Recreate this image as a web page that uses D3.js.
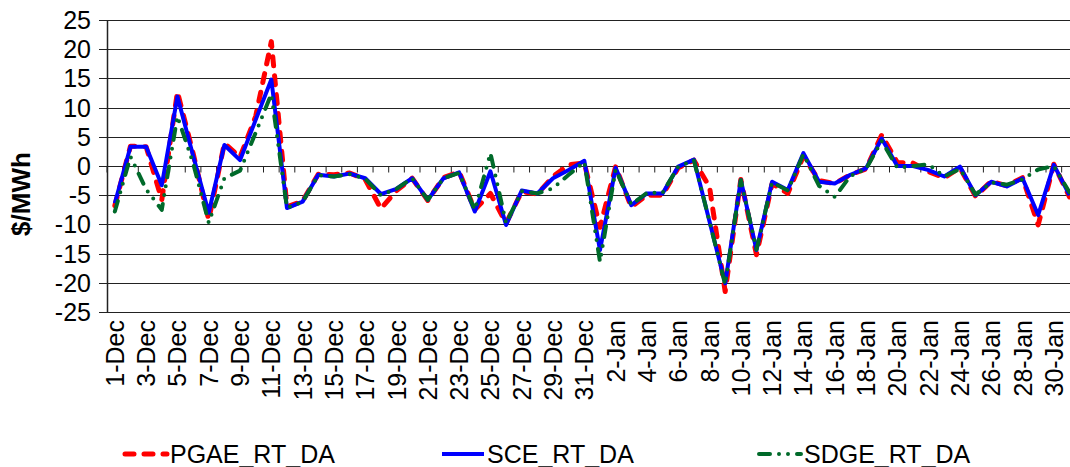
<!DOCTYPE html>
<html lang="en">
<head>
    <meta charset="UTF-8">
    <title>RT - DA price differences</title>
    <script src="https://d3js.org/d3.v7.min.js"></script>
    <style>
        body {
            margin: 0;
            padding: 0;
            background: white;
            overflow: hidden;
        }
        svg {
            display: block;
            font-family: 'Liberation Sans', Arial, sans-serif;
        }
        .tick-label {
            font-size: 25px;
            fill: black;
        }
        .legend-text {
            font-size: 25px;
            fill: black;
        }
        .axis-title {
            font-size: 26px;
            font-weight: bold;
        }
    </style>
</head>
<body>
    <div id="chart"></div>

    <script>
        // category labels, one per day
        const days = [
            "1-Dec","2-Dec","3-Dec","4-Dec","5-Dec","6-Dec","7-Dec","8-Dec","9-Dec","10-Dec",
            "11-Dec","12-Dec","13-Dec","14-Dec","15-Dec","16-Dec","17-Dec","18-Dec","19-Dec","20-Dec",
            "21-Dec","22-Dec","23-Dec","24-Dec","25-Dec","26-Dec","27-Dec","28-Dec","29-Dec","30-Dec","31-Dec",
            "1-Jan","2-Jan","3-Jan","4-Jan","5-Jan","6-Jan","7-Jan","8-Jan","9-Jan","10-Jan",
            "11-Jan","12-Jan","13-Jan","14-Jan","15-Jan","16-Jan","17-Jan","18-Jan","19-Jan","20-Jan",
            "21-Jan","22-Jan","23-Jan","24-Jan","25-Jan","26-Jan","27-Jan","28-Jan","29-Jan","30-Jan","31-Jan"
        ];

        // only every second day is labelled
        const dayLabels = days.filter((d, i) => i % 2 === 0);

        const yTicks = [-25, -20, -15, -10, -5, 0, 5, 10, 15, 20, 25];

        const pgae = [
            -6.8, 3.4, 3.3, -5.8, 12.7, 2.2, -9.2, 3.9, 1.5, 8.5,
            21.3, -7.0, -6.0, -1.4, -1.5, -1.2, -2.3, -7.3, -4.2, -2.1,
            -5.9, -2.0, -1.0, -7.5, -4.7, -9.8, -4.4, -4.8, -1.8, 0.2, 0.5,
            -10.5, -0.1, -7.0, -5.0, -5.0, -0.3, 1.0, -3.6, -21.5, -2.3,
            -15.2, -3.0, -4.7, 1.7, -2.5, -3.0, -1.5, -0.5, 5.3, 0.6,
            0.5, -1.0, -2.0, -0.3, -5.2, -2.6, -3.4, -2.0, -10.1, 0.3, -5.3
        ];

        const sce = [
            -6.4, 3.3, 3.3, -3.3, 11.9, 1.8, -8.0, 3.6, 1.0, 7.9,
            14.8, -7.2, -6.1, -1.5, -1.8, -1.3, -2.1, -4.8, -3.9, -2.1,
            -5.8, -2.1, -1.1, -7.8, -0.9, -10.1, -4.2, -4.7, -2.1, -0.7, 0.9,
            -14.4, -0.3, -6.7, -4.7, -4.7, -0.1, 1.1, -9.5, -20.1, -2.4,
            -14.4, -2.7, -4.1, 2.2, -2.7, -3.0, -1.5, -0.4, 4.7, 0.0,
            0.0, -0.7, -1.8, -0.1, -5.0, -2.7, -3.5, -2.1, -8.4, 0.2, -5.0
        ];

        const sdge = [
            -7.8, 1.6, -4.0, -7.5, 8.5, 0.5, -9.7, -2.1, -0.8, 5.7,
            12.3, -7.2, -6.1, -1.6, -1.8, -1.4, -2.2, -5.0, -3.9, -2.1,
            -5.8, -2.1, -1.2, -7.5, 2.2, -9.8, -4.3, -4.7, -3.8, -1.5, 0.7,
            -16.4, -0.6, -6.6, -4.6, -4.6, -0.1, 1.0, -9.5, -20.3, -2.4,
            -14.3, -2.8, -4.2, 2.0, -3.4, -5.3, -1.7, -0.5, 4.3, -0.3,
            0.0, 0.3, -1.8, -0.5, -4.9, -2.8, -3.2, -2.3, -0.6, 0.0, -4.5
        ];

        const seriesNames = ["PGAE_RT_DA", "SCE_RT_DA", "SDGE_RT_DA"];

        const width = 1070, height = 467;
        const plotLeft = 107, plotTop = 20, plotBottom = 312;
        const step = 15.65;

        const svg = d3.select("#chart")
            .append("svg")
            .attr("width", width)
            .attr("height", height);

        const x = d3.scaleBand()
            .domain(days)
            .range([plotLeft, plotLeft + step * days.length])
            .padding(0);

        const y = d3.scaleLinear()
            .domain([-25, 25])
            .range([plotBottom, plotTop]);

        const cx = d => x(d) + x.bandwidth() / 2;

        // horizontal gridlines + y axis ticks
        svg.append("g")
            .selectAll("line")
            .data(yTicks)
            .join("line")
            .attr("x1", plotLeft - 8)
            .attr("x2", x.range()[1])
            .attr("y1", d => Math.round(y(d)) + 0.5)
            .attr("y2", d => Math.round(y(d)) + 0.5)
            .attr("stroke", "#222")
            .attr("stroke-width", 1);

        svg.append("g")
            .selectAll("text")
            .data(yTicks)
            .join("text")
            .attr("class", "tick-label")
            .attr("x", 91)
            .attr("y", d => y(d))
            .attr("dy", "0.36em")
            .attr("text-anchor", "end")
            .text(d => d);

        // vertical axis line
        svg.append("line")
            .attr("x1", plotLeft + 0.5).attr("x2", plotLeft + 0.5)
            .attr("y1", plotTop).attr("y2", plotBottom)
            .attr("stroke", "#222")
            .attr("stroke-width", 1.5);

        // category axis sits on zero, ticks at every category boundary
        const zeroY = Math.round(y(0)) + 0.5;
        svg.append("g")
            .selectAll("line")
            .data(days.concat([null]))
            .join("line")
            .attr("x1", (d, i) => plotLeft + step * i)
            .attr("x2", (d, i) => plotLeft + step * i)
            .attr("y1", zeroY)
            .attr("y2", zeroY + 6)
            .attr("stroke", "#222")
            .attr("stroke-width", 1);

        // category labels along the bottom
        svg.append("g")
            .selectAll("text")
            .data(dayLabels)
            .join("text")
            .attr("class", "tick-label")
            .attr("transform", d => `translate(${cx(d)},${plotBottom + 8}) rotate(-90)`)
            .attr("dy", "0.36em")
            .attr("text-anchor", "end")
            .text(d => d);

        // y title
        svg.append("text")
            .attr("class", "axis-title")
            .attr("transform", `translate(21,${(plotTop + plotBottom) / 2 + 28}) rotate(-90)`)
            .attr("dy", "0.36em")
            .attr("text-anchor", "middle")
            .text("$/MWh");

        const line = d3.line()
            .x((v, i) => cx(days[i]))
            .y(v => y(v));

        const styles = [
            { data: pgae, color: "#ff0000", width: 5, dash: "9,10" },
            { data: sce, color: "#0000ff", width: 4, dash: null },
            { data: sdge, color: "#006a2a", width: 4, dash: "11,9,0,9,0,9" }
        ];

        svg.append("g")
            .selectAll("path")
            .data(styles)
            .join("path")
            .attr("d", d => line(d.data))
            .attr("fill", "none")
            .attr("stroke", d => d.color)
            .attr("stroke-width", d => d.width)
            .attr("stroke-dasharray", d => d.dash)
            .attr("stroke-linecap", d => d.dash ? "round" : "butt")
            .attr("stroke-linejoin", "round");

        // legend
        const legend = svg.append("g")
            .selectAll("g")
            .data(styles)
            .join("g")
            .attr("transform", (d, i) => `translate(${125 + i * 317},454)`);

        legend.append("line")
            .attr("x1", 0).attr("x2", 42)
            .attr("y1", 0).attr("y2", 0)
            .attr("stroke", d => d.color)
            .attr("stroke-width", d => d.width)
            .attr("stroke-dasharray", d => d.dash)
            .attr("stroke-linecap", d => d.dash ? "round" : "butt");

        legend.append("text")
            .attr("class", "legend-text")
            .attr("x", 45)
            .attr("dy", "0.36em")
            .text((d, i) => seriesNames[i]);
    </script>
</body>
</html>
